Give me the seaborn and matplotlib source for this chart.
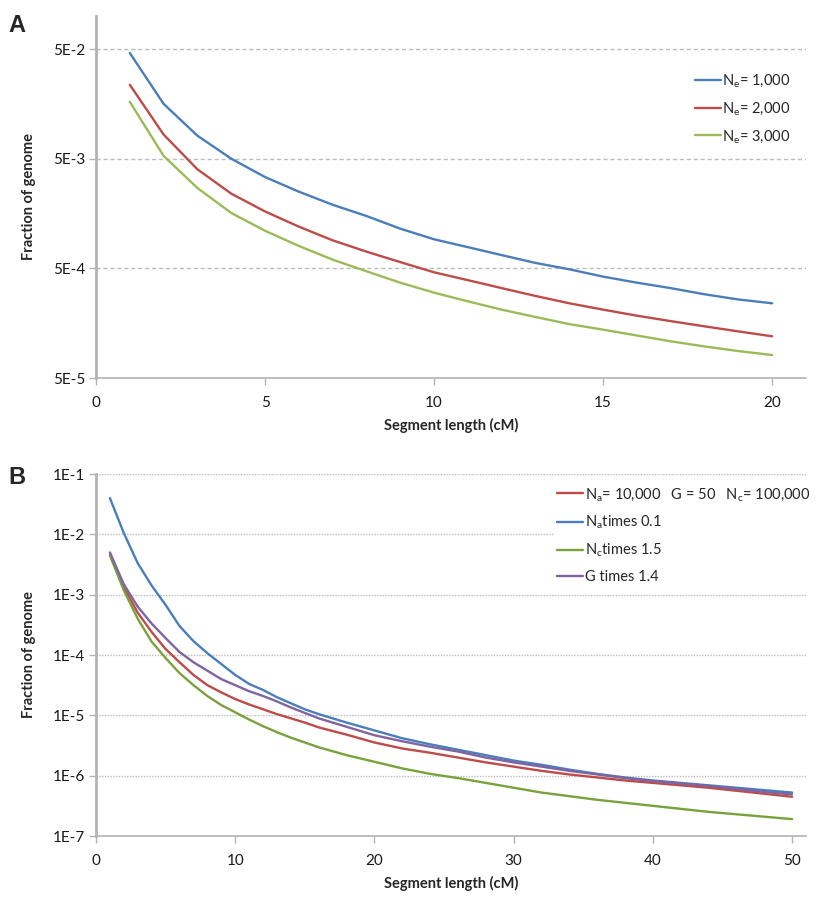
import numpy as np
import pandas as pd
import seaborn as sns
import matplotlib
matplotlib.use("Agg")
import matplotlib.pyplot as plt
from matplotlib.ticker import FixedLocator, NullLocator

# ---- panel A data (fraction of genome vs segment length) ----
a_x = list(range(1, 21))
a_ne1000 = [0.046, 0.0158, 0.0081, 0.0050, 0.0034, 0.0025, 0.0019, 0.0015, 0.00115, 0.00092,
            0.00078, 0.00066, 0.00056, 0.00049, 0.00042, 0.00037, 0.00033, 0.00029, 0.00026, 0.00024]
a_ne2000 = [0.0236, 0.0083, 0.0040, 0.0024, 0.00165, 0.00120, 0.00090, 0.00071, 0.00057, 0.00046,
            0.00039, 0.00033, 0.00028, 0.00024, 0.00021, 0.000185, 0.000165, 0.000148, 0.000133, 0.00012]
a_ne3000 = [0.0165, 0.0053, 0.0027, 0.0016, 0.00110, 0.00080, 0.00060, 0.00047, 0.00037, 0.00030,
            0.00025, 0.00021, 0.00018, 0.000155, 0.000138, 0.000122, 0.000108, 0.000097, 0.000088, 0.000081]
a_labels = ["N$_e$= 1,000", "N$_e$= 2,000", "N$_e$= 3,000"]
a_colors = ["#4a7ebb", "#be4b48", "#9bbb59"]
a_yticks = [5e-5, 5e-4, 5e-3, 5e-2]
a_yticklabels = ["5E-5", "5E-4", "5E-3", "5E-2"]

# ---- panel B data, stored as log10 of the fraction ----
b_x = [1, 2, 3, 4, 5, 6, 7, 8, 9, 10, 11, 12, 13, 14, 15, 16, 18, 20, 22, 24, 26, 28,
       30, 32, 34, 36, 38, 40, 42, 44, 46, 48, 50]
b_base_log = [-2.33, -2.88, -3.30, -3.62, -3.90, -4.12, -4.33, -4.50, -4.62, -4.73, -4.82, -4.90,
              -4.98, -5.05, -5.12, -5.20, -5.32, -5.45, -5.55, -5.62, -5.70, -5.78, -5.85, -5.92,
              -5.98, -6.03, -6.08, -6.12, -6.16, -6.20, -6.25, -6.30, -6.35]
b_na_log = [-1.40, -1.98, -2.48, -2.85, -3.17, -3.52, -3.77, -3.97, -4.15, -4.33, -4.48, -4.58,
            -4.70, -4.80, -4.90, -4.98, -5.12, -5.25, -5.38, -5.48, -5.57, -5.66, -5.75, -5.82,
            -5.90, -5.97, -6.03, -6.08, -6.12, -6.16, -6.20, -6.24, -6.28]
b_nc_log = [-2.35, -2.93, -3.40, -3.78, -4.05, -4.30, -4.50, -4.68, -4.83, -4.95, -5.07, -5.18,
            -5.28, -5.37, -5.45, -5.53, -5.66, -5.77, -5.88, -5.97, -6.04, -6.12, -6.20, -6.28,
            -6.34, -6.40, -6.45, -6.50, -6.55, -6.60, -6.64, -6.68, -6.72]
b_g_log = [-2.30, -2.83, -3.20, -3.48, -3.72, -3.95, -4.12, -4.26, -4.40, -4.50, -4.60, -4.68,
           -4.77, -4.87, -4.96, -5.05, -5.19, -5.33, -5.43, -5.52, -5.60, -5.70, -5.78, -5.85,
           -5.92, -5.98, -6.04, -6.09, -6.13, -6.17, -6.22, -6.27, -6.31]
b_labels = ["N$_a$= 10,000   G = 50   N$_c$= 100,000", "N$_a$times 0.1",
            "N$_c$times 1.5", "G times 1.4"]
b_colors = ["#be4b48", "#4a7ebb", "#77a33a", "#8064a2"]
b_yticks = [1e-7, 1e-6, 1e-5, 1e-4, 1e-3, 1e-2, 1e-1]
b_yticklabels = ["1E-7", "1E-6", "1E-5", "1E-4", "1E-3", "1E-2", "1E-1"]

sns.set_theme(style="white")
plt.rcParams["font.family"] = ["Lato", "DejaVu Sans"]
plt.rcParams["mathtext.default"] = "regular"

axis_grey = "#b3b3b3"


def style_axes(ax, yticks, yticklabels, xticks, xlim, ylim, grid_style):
    ax.set_yscale("log")
    ax.set_xlim(*xlim)
    ax.set_ylim(*ylim)
    ax.yaxis.set_major_locator(FixedLocator(yticks))
    ax.yaxis.set_minor_locator(NullLocator())
    ax.set_yticklabels(yticklabels)
    ax.set_xticks(xticks)
    ax.set_xticklabels([str(t) for t in xticks])
    for t in yticks[1:]:
        ax.axhline(t, color="#bdbdbd", lw=1.0, ls=grid_style, zorder=0)
    for s in ["top", "right"]:
        ax.spines[s].set_visible(False)
    ax.spines["left"].set_color(axis_grey)
    ax.spines["left"].set_linewidth(2.0)
    ax.spines["bottom"].set_color(axis_grey)
    ax.spines["bottom"].set_linewidth(1.2)
    ax.tick_params(axis="both", which="major", direction="out", length=5, width=1,
                   color=axis_grey, labelsize=11, pad=3, labelcolor="#1a1a1a",
                   left=True, bottom=True)
    ax.tick_params(axis="x", pad=8)
    ax.set_xlabel("Segment length (cM)", fontsize=10.5, fontweight="bold", labelpad=6)
    ax.set_ylabel("Fraction of genome", fontsize=10.5, fontweight="bold", labelpad=12)


fig = plt.figure(figsize=(8.3, 9.08), dpi=100)
axA = fig.add_axes([96 / 830, 1 - 378 / 908, 710 / 830, 362 / 908])
axB = fig.add_axes([96 / 830, 1 - 836 / 908, 710 / 830, 362 / 908])

# panel A
dfA = pd.DataFrame({
    "x": a_x * 3,
    "y": a_ne1000 + a_ne2000 + a_ne3000,
    "series": [a_labels[0]] * 20 + [a_labels[1]] * 20 + [a_labels[2]] * 20,
})
sns.lineplot(data=dfA, x="x", y="y", hue="series", hue_order=a_labels,
             palette=dict(zip(a_labels, a_colors)), lw=1.7, ax=axA, zorder=3)
style_axes(axA, a_yticks, a_yticklabels, [0, 5, 10, 15, 20], (0, 21), (5e-5, 0.1), (0, (3, 2)))
h, l = axA.get_legend_handles_labels()
axA.legend(h, l, loc="upper left", bbox_to_anchor=(0.835, 0.86), frameon=False,
           fontsize=10.5, handlelength=1.8, handletextpad=0.1, labelspacing=0.75,
           borderaxespad=0)

# panel B
nB = len(b_x)
dfB = pd.DataFrame({
    "x": b_x * 4,
    "y": 10 ** np.array(b_base_log + b_na_log + b_nc_log + b_g_log),
    "series": sum([[lab] * nB for lab in b_labels], []),
})
sns.lineplot(data=dfB, x="x", y="y", hue="series", hue_order=b_labels,
             palette=dict(zip(b_labels, b_colors)), lw=1.7, ax=axB, zorder=3)
style_axes(axB, b_yticks, b_yticklabels, [0, 10, 20, 30, 40, 50], (0, 51), (1e-7, 1e-1), (0, (1, 1)))
h, l = axB.get_legend_handles_labels()
lgB = axB.legend(h, l, loc="upper left", bbox_to_anchor=(0.645, 0.975), frameon=True,
                 facecolor="white", edgecolor="none", framealpha=1, fancybox=False,
                 fontsize=10.5, handlelength=1.8, handletextpad=0.1, labelspacing=0.75,
                 borderaxespad=0, borderpad=0.2)
lgB.set_zorder(5)

fig.text(8 / 830, 1 - 25 / 908, "A", fontsize=17, fontweight="bold", va="center", ha="left",
         family="Liberation Sans")
fig.text(8 / 830, 1 - 478 / 908, "B", fontsize=17, fontweight="bold", va="center", ha="left",
         family="Liberation Sans")

fig.savefig("out.png", dpi=100)
